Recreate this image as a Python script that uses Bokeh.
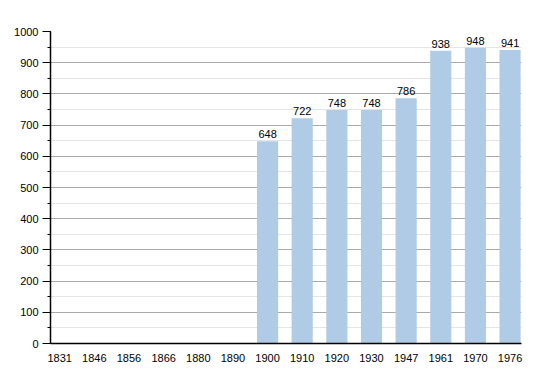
from bokeh.plotting import figure
from bokeh.models import ColumnDataSource, Range1d, FixedTicker, SingleIntervalTicker
from bokeh.core.properties import value
from bokeh.embed import file_html
from bokeh.resources import INLINE

years = ["1831", "1846", "1856", "1866", "1880", "1890", "1900", "1910", "1920", "1930", "1947", "1961", "1970", "1976"]
population = [None, None, None, None, None, None, 648, 722, 748, 748, 786, 938, 948, 941]
y_ticks = [0, 100, 200, 300, 400, 500, 600, 700, 800, 900, 1000]

idx = [i for i, v in enumerate(population) if v is not None]
src = ColumnDataSource(dict(
    x=idx,
    top=[population[i] for i in idx],
    label=[str(population[i]) for i in idx],
))

FONT = "Liberation Sans"

p = figure(width=542, height=365, output_backend="svg", toolbar_location=None,
           x_range=Range1d(-0.266, 13.33), y_range=Range1d(0, 1000),
           min_border_left=50, min_border_right=21, min_border_top=31, min_border_bottom=22)
p.outline_line_color = None
p.background_fill_color = "white"

p.vbar(x="x", top="top", width=0.61, source=src, fill_color="#b0cbe6", line_color=None)
p.text(x="x", y="top", text="label", source=src, text_align="center", text_baseline="bottom",
       y_offset=-3, text_font=value(FONT), text_font_size="11px", text_color="black")

# x axis
p.xaxis.ticker = FixedTicker(ticks=list(range(len(years))))
p.xaxis.major_label_overrides = {i: y for i, y in enumerate(years)}
p.xaxis.major_tick_line_color = None
p.xaxis.minor_tick_line_color = None
p.xaxis.axis_line_color = "black"
p.xaxis.axis_line_width = 1.5
p.xaxis.major_label_standoff = 4
p.xaxis.major_label_text_font = FONT
p.xaxis.major_label_text_font_size = "11px"
p.xaxis.major_label_text_color = "black"
p.xgrid.grid_line_color = None

# y axis
p.yaxis.ticker = SingleIntervalTicker(interval=100, num_minor_ticks=2)
p.yaxis.axis_line_color = "black"
p.yaxis.axis_line_width = 1.5
p.yaxis.major_tick_line_color = "black"
p.yaxis.major_tick_out = 8
p.yaxis.major_tick_in = 0
p.yaxis.minor_tick_line_color = "black"
p.yaxis.minor_tick_out = 3
p.yaxis.minor_tick_in = 0
p.yaxis.major_label_standoff = 4
p.yaxis.major_label_text_font = FONT
p.yaxis.major_label_text_font_size = "11px"
p.yaxis.major_label_text_color = "black"
p.ygrid.ticker = SingleIntervalTicker(interval=100, num_minor_ticks=2)
p.ygrid.grid_line_color = "#aaaaaa"
p.ygrid.minor_grid_line_color = "#e4e4e4"

open("out.html", "w").write(file_html(p, INLINE))
